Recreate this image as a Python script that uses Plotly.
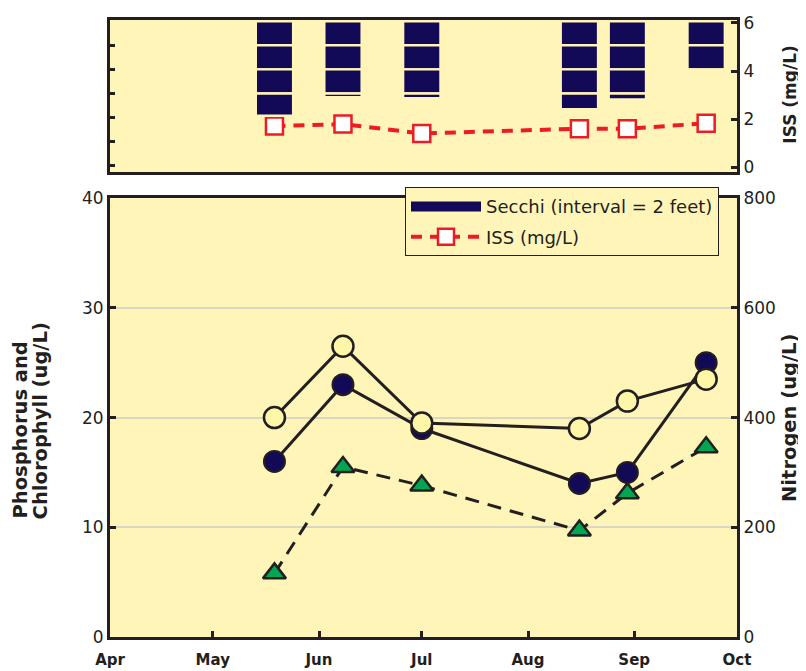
import plotly.graph_objects as go

# sampling dates (one season)
dates = ["2005-05-19", "2005-06-08", "2005-07-01", "2005-08-16", "2005-08-30", "2005-09-22"]

phosphorus = [16.0, 23.0, 19.0, 14.0, 15.0, 25.0]        # ug/L, navy circles
chlorophyll = [20.0, 26.5, 19.5, 19.0, 21.5, 23.5]       # ug/L, yellow circles
nitrogen = [116, 310, 276, 194, 262, 346]                # ug/L, green triangles
iss = [1.72, 1.8, 1.41, 1.61, 1.61, 1.83]                # mg/L
secchi_ft = [7.85, 6.3, 6.4, 7.3, 6.5, 4.15]             # feet

month_ticks = ["2005-04-01", "2005-05-01", "2005-06-01", "2005-07-01",
               "2005-08-01", "2005-09-01", "2005-10-01"]
month_labels = ["Apr", "May", "Jun", "Jul", "Aug", "Sep", "Oct"]

BG = "#fff5b9"
NAVY = "#120a57"
PALE = "#fff7a8"
GREEN = "#00a651"
RED = "#ed1c24"
INK = "#231f20"
FONT = "DejaVu Sans, Arial, sans-serif"

# secchi drawn as 2-foot blocks hanging from the top
seg_x, seg_base, seg_h = [], [], []
for d, depth in zip(dates, secchi_ft):
    b = 0.0
    while b < depth:
        seg_x.append(d)
        seg_base.append(b)
        seg_h.append(min(2.0, depth - b))
        b += 2.0

fig = go.Figure()

fig.add_trace(go.Bar(
    x=seg_x, y=seg_h, base=seg_base, xaxis="x2", yaxis="y4",
    width=10.9 * 86400000, marker=dict(color=NAVY, line=dict(color=BG, width=2.4)),
    showlegend=False, hoverinfo="skip",
))
fig.add_trace(go.Scatter(
    x=[None], y=[None], xaxis="x2", yaxis="y3", mode="lines", legendgroup="a",
    line=dict(color=NAVY, width=16), name="Secchi (interval = 2 feet)",
))
fig.add_trace(go.Scatter(
    x=dates, y=iss, xaxis="x2", yaxis="y3", mode="lines+markers", legendgroup="b",
    line=dict(color=RED, width=4, dash="11px,8px"),
    marker=dict(symbol="square", size=17, color="white", line=dict(color=RED, width=2.5)),
    name="ISS (mg/L)",
))

fig.add_trace(go.Scatter(
    x=dates, y=phosphorus, mode="lines+markers",
    line=dict(color=INK, width=3),
    marker=dict(size=21, color=NAVY, line=dict(color=INK, width=2)),
    name="Phosphorus", showlegend=False,
))
fig.add_trace(go.Scatter(
    x=dates, y=chlorophyll, mode="lines+markers",
    line=dict(color=INK, width=3),
    marker=dict(size=21, color=PALE, line=dict(color=INK, width=2.5)),
    name="Chlorophyll", showlegend=False,
))
fig.add_trace(go.Scatter(
    x=dates, y=nitrogen, yaxis="y2", mode="lines+markers",
    line=dict(color=INK, width=3, dash="14px,9px"),
    marker=dict(symbol="triangle-up", size=20, color=GREEN, line=dict(color=INK, width=2.5)),
    name="Nitrogen", showlegend=False,
))

axis_line = dict(showline=True, linecolor=INK, linewidth=3, zeroline=False)
tick_style = dict(ticks="inside", ticklen=6, tickwidth=3, tickcolor=INK,
                  tickfont=dict(family=FONT, size=17, color=INK))
xrange = ["2005-04-01", "2005-10-01"]


def vtitle(text, x, y, size):
    return dict(text="<b>%s</b>" % text, xref="paper", yref="paper", x=x, y=y,
                xanchor="center", yanchor="middle", textangle=-90, showarrow=False,
                font=dict(family=FONT, size=size, color=INK))


# the page body has an 8px margin, so the figure is drawn 8px smaller
fig.update_layout(
    width=798, height=663,
    margin=dict(l=102, r=69, t=9, b=34),
    paper_bgcolor="white", plot_bgcolor=BG,
    barmode="overlay",
    font=dict(family=FONT, color=INK),
    xaxis=dict(
        domain=[0, 1], range=xrange, anchor="y", mirror=True, automargin=False,
        tickvals=month_ticks, ticktext=["<b>%s</b>" % m for m in month_labels],
        showgrid=False, **axis_line,
        ticks="inside", ticklen=6, tickwidth=3, tickcolor=INK, ticklabelstandoff=7,
        tickfont=dict(family=FONT, size=15, color=INK),
    ),
    yaxis=dict(
        domain=[0, 0.7113], range=[0, 40], tickvals=[0, 10, 20, 30, 40], automargin=False,
        showgrid=True, gridcolor="#d9d6c4", gridwidth=1.5,
        **axis_line, **tick_style,
    ),
    yaxis2=dict(
        overlaying="y", side="right", range=[0, 800], tickvals=[0, 200, 400, 600, 800],
        showgrid=False, automargin=False, **axis_line, **tick_style,
    ),
    xaxis2=dict(
        domain=[0, 1], range=xrange, anchor="y3", mirror=True, matches="x",
        showticklabels=False, ticks="", showgrid=False, **axis_line,
    ),
    yaxis3=dict(
        domain=[0.7532, 1], range=[-0.2, 6.12], side="right", anchor="x2", automargin=False,
        tickvals=[0, 2, 4, 6], showgrid=False, **axis_line, **tick_style,
    ),
    yaxis4=dict(
        overlaying="y3", side="left", anchor="x2", range=[12.54, -0.1],
        tickvals=[2, 4, 6, 8, 10, 12], showticklabels=False, showgrid=False,
        ticks="inside", ticklen=5, tickwidth=2.5, tickcolor=INK,
        **axis_line,
    ),
    legend=dict(
        x=0.4705, y=0.729, xanchor="left", yanchor="top",
        bgcolor=BG, bordercolor=INK, borderwidth=1,
        font=dict(family=FONT, size=18, color=INK),
        itemwidth=70, tracegroupgap=4,
    ),
    annotations=[
        vtitle("Phosphorus and", -0.1435, 0.3347, 19.5),
        vtitle("Chlorophyll (ug/L)", -0.1117, 0.351, 19.5),
        vtitle("Nitrogen (ug/L)", 1.0845, 0.355, 19.5),
        vtitle("ISS (mg/L)", 1.0845, 0.879, 17),
    ],
)

fig.write_html("out.html")
